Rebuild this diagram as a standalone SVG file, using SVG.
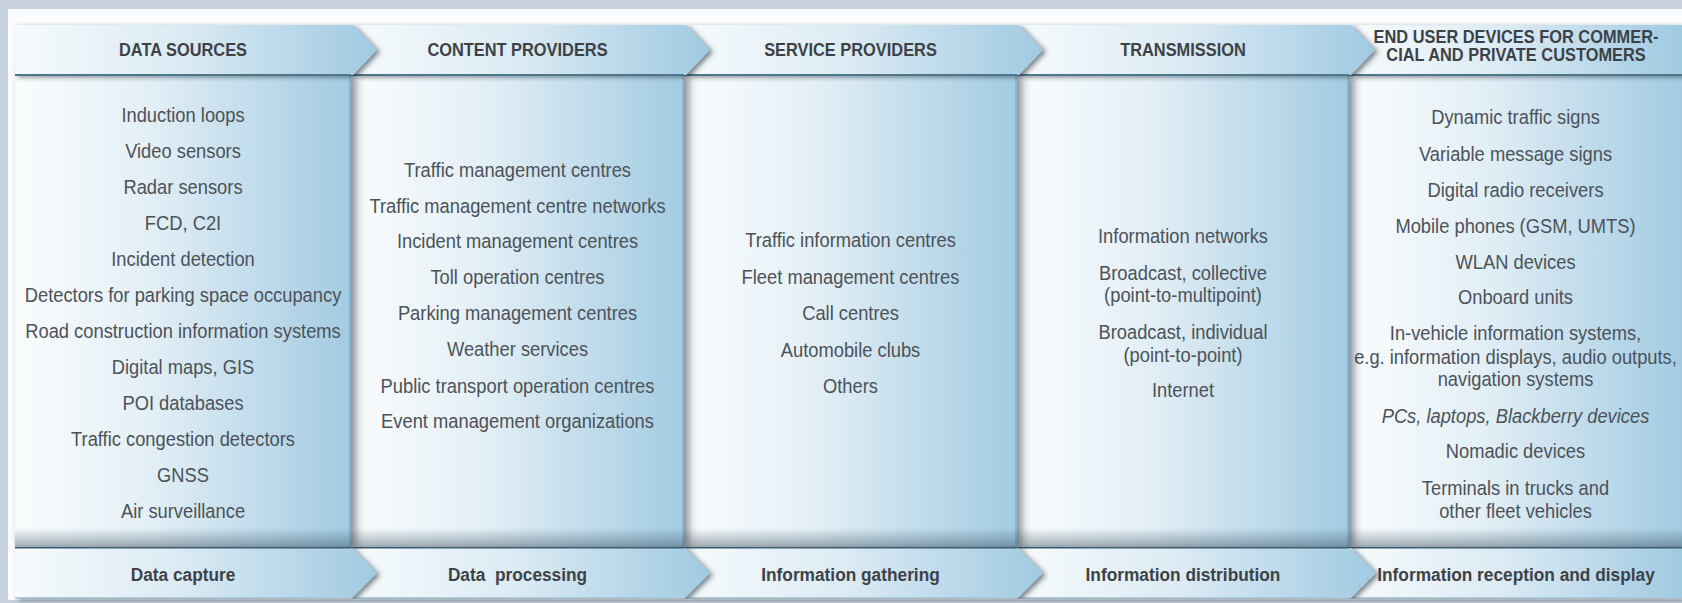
<svg xmlns="http://www.w3.org/2000/svg" width="1682" height="603" viewBox="0 0 1682 603">
<defs>
<style>
.t{font-family:"Liberation Sans",Arial,sans-serif;font-size:19.5px;fill:#4c5258;text-anchor:middle}
.h{font-family:"Liberation Sans",Arial,sans-serif;font-size:18.5px;font-weight:bold;fill:#3d4246;text-anchor:middle}
.it{font-style:italic}
.edge{fill:#86b6d0}
.hl{fill:#4f778c}
.bl{fill:#3f5d6e}
.bb{fill:#a9cde0}
</style>
<linearGradient id="gBody" x1="0" y1="0" x2="1" y2="0">
<stop offset="0" stop-color="#fafcfd"/><stop offset="0.4" stop-color="#e3eff6"/><stop offset="1" stop-color="#a2cbe2"/>
</linearGradient>
<linearGradient id="gHead" x1="0" y1="0" x2="1" y2="0">
<stop offset="0" stop-color="#f6fafc"/><stop offset="0.45" stop-color="#dcebf4"/><stop offset="1" stop-color="#a0cae2"/>
</linearGradient>
<linearGradient id="gBot" x1="0" y1="0" x2="0" y2="1">
<stop offset="0" stop-color="#2e4656" stop-opacity="0"/><stop offset="1" stop-color="#2e4656" stop-opacity="0.45"/>
</linearGradient>
<filter id="shR" x="-5%" y="-5%" width="115%" height="110%">
<feDropShadow dx="5" dy="0" stdDeviation="4" flood-color="#26323a" flood-opacity="0.55"/>
</filter>
<filter id="shA" x="-5%" y="-20%" width="115%" height="150%">
<feDropShadow dx="3" dy="2" stdDeviation="2.5" flood-color="#26323a" flood-opacity="0.6"/>
</filter>
</defs>
<rect x="0" y="0" width="1682" height="603" fill="#c7d1dd"/>
<rect x="8" y="9" width="1674" height="591" fill="#fbfcfd"/>

<g id="col-end-user-devices">
<rect x="1349" y="75" width="333" height="473" fill="url(#gBody)"/>
<rect x="1349" y="528" width="333" height="20" fill="url(#gBot)"/>
<path d="M1351,25 H1682 V75 H1351 L1375,50 Z" fill="url(#gHead)" filter="url(#shA)"/>
<rect class="hl" x="1349" y="74" width="333" height="2"/>
<path d="M1351,548 H1682 V598 H1351 L1376,573 Z" fill="url(#gHead)" filter="url(#shA)"/>
<rect class="bl" x="1349" y="547" width="333" height="1.5"/>
<rect class="bb" x="1349" y="597" width="333" height="1.5"/>
<g transform="translate(1516 0) scale(0.886 1)">
<text class="h" x="0" y="43.5">END USER DEVICES FOR COMMER-</text>
<text class="h" x="0" y="61.5">CIAL AND PRIVATE CUSTOMERS</text>
</g>
<g transform="translate(1516 0) scale(0.935 1)">
<text class="h" x="0" y="581.5">Information reception and display</text>
</g>
<g transform="translate(1515.5 0) scale(0.94 1)">
<text class="t" x="0" y="124">Dynamic traffic signs</text>
<text class="t" x="0" y="161">Variable message signs</text>
<text class="t" x="0" y="197">Digital radio receivers</text>
<text class="t" x="0" y="233">Mobile phones (GSM, UMTS)</text>
<text class="t" x="0" y="269">WLAN devices</text>
<text class="t" x="0" y="304">Onboard units</text>
<text class="t" x="0" y="340">In-vehicle information systems,</text>
<text class="t" x="0" y="364">e.g. information displays, audio outputs,</text>
<text class="t" x="0" y="386">navigation systems</text>
<text class="t it" x="0" y="423">PCs, laptops, Blackberry devices</text>
<text class="t" x="0" y="458">Nomadic devices</text>
<text class="t" x="0" y="495">Terminals in trucks and</text>
<text class="t" x="0" y="518">other fleet vehicles</text>
</g>
</g>

<g id="col-transmission">
<rect x="1017" y="75" width="332" height="473" fill="url(#gBody)" filter="url(#shR)"/>
<rect class="edge" x="1347" y="75" width="2" height="473"/>
<rect x="1017" y="528" width="332" height="20" fill="url(#gBot)"/>
<path d="M1019,25 H1351 L1375,50 L1351,75 H1019 L1043,50 Z" fill="url(#gHead)" filter="url(#shA)"/>
<rect class="hl" x="1017" y="74" width="332" height="2"/>
<path d="M1018,548 H1351 L1376,573 L1351,598 H1018 L1043,573 Z" fill="url(#gHead)" filter="url(#shA)"/>
<rect class="bl" x="1017" y="547" width="332" height="1.5"/>
<rect class="bb" x="1017" y="597" width="332" height="1.5"/>
<g transform="translate(1183 0) scale(0.886 1)">
<text class="h" x="0" y="56">TRANSMISSION</text>
</g>
<g transform="translate(1183 0) scale(0.935 1)">
<text class="h" x="0" y="581.5">Information distribution</text>
</g>
<g transform="translate(1183 0) scale(0.94 1)">
<text class="t" x="0" y="243">Information networks</text>
<text class="t" x="0" y="280">Broadcast, collective</text>
<text class="t" x="0" y="302">(point-to-multipoint)</text>
<text class="t" x="0" y="339">Broadcast, individual</text>
<text class="t" x="0" y="362">(point-to-point)</text>
<text class="t" x="0" y="397">Internet</text>
</g>
</g>

<g id="col-service-providers">
<rect x="684" y="75" width="333" height="473" fill="url(#gBody)" filter="url(#shR)"/>
<rect class="edge" x="1015" y="75" width="2" height="473"/>
<rect x="684" y="528" width="333" height="20" fill="url(#gBot)"/>
<path d="M686,25 H1019 L1043,50 L1019,75 H686 L710,50 Z" fill="url(#gHead)" filter="url(#shA)"/>
<rect class="hl" x="684" y="74" width="333" height="2"/>
<path d="M685,548 H1018 L1043,573 L1018,598 H685 L710,573 Z" fill="url(#gHead)" filter="url(#shA)"/>
<rect class="bl" x="684" y="547" width="333" height="1.5"/>
<rect class="bb" x="684" y="597" width="333" height="1.5"/>
<g transform="translate(850.5 0) scale(0.886 1)">
<text class="h" x="0" y="56">SERVICE PROVIDERS</text>
</g>
<g transform="translate(850.5 0) scale(0.935 1)">
<text class="h" x="0" y="581.5">Information gathering</text>
</g>
<g transform="translate(850.5 0) scale(0.94 1)">
<text class="t" x="0" y="247">Traffic information centres</text>
<text class="t" x="0" y="284">Fleet management centres</text>
<text class="t" x="0" y="320">Call centres</text>
<text class="t" x="0" y="357">Automobile clubs</text>
<text class="t" x="0" y="393">Others</text>
</g>
</g>

<g id="col-content-providers">
<rect x="351" y="75" width="333" height="473" fill="url(#gBody)" filter="url(#shR)"/>
<rect class="edge" x="682" y="75" width="2" height="473"/>
<rect x="351" y="528" width="333" height="20" fill="url(#gBot)"/>
<path d="M353,25 H686 L710,50 L686,75 H353 L377,50 Z" fill="url(#gHead)" filter="url(#shA)"/>
<rect class="hl" x="351" y="74" width="333" height="2"/>
<path d="M352,548 H685 L710,573 L685,598 H352 L377,573 Z" fill="url(#gHead)" filter="url(#shA)"/>
<rect class="bl" x="351" y="547" width="333" height="1.5"/>
<rect class="bb" x="351" y="597" width="333" height="1.5"/>
<g transform="translate(517.5 0) scale(0.886 1)">
<text class="h" x="0" y="56">CONTENT PROVIDERS</text>
</g>
<g transform="translate(517.5 0) scale(0.935 1)">
<text class="h" x="0" y="581.5" xml:space="preserve">Data  processing</text>
</g>
<g transform="translate(517.5 0) scale(0.94 1)">
<text class="t" x="0" y="177">Traffic management centres</text>
<text class="t" x="0" y="213">Traffic management centre networks</text>
<text class="t" x="0" y="248">Incident management centres</text>
<text class="t" x="0" y="284">Toll operation centres</text>
<text class="t" x="0" y="320">Parking management centres</text>
<text class="t" x="0" y="356">Weather services</text>
<text class="t" x="0" y="393">Public transport operation centres</text>
<text class="t" x="0" y="428">Event management organizations</text>
</g>
</g>

<g id="col-data-sources">
<rect x="15" y="75" width="336" height="473" fill="url(#gBody)" filter="url(#shR)"/>
<rect class="edge" x="349" y="75" width="2" height="473"/>
<rect x="15" y="528" width="336" height="20" fill="url(#gBot)"/>
<path d="M15,25 H353 L377,50 L353,75 H15 Z" fill="url(#gHead)" filter="url(#shA)"/>
<rect class="hl" x="15" y="74" width="336" height="2"/>
<path d="M15,548 H352 L377,573 L352,598 H15 Z" fill="url(#gHead)" filter="url(#shA)"/>
<rect class="bl" x="15" y="547" width="336" height="1.5"/>
<rect class="bb" x="15" y="597" width="336" height="1.5"/>
<g transform="translate(183 0) scale(0.886 1)">
<text class="h" x="0" y="56">DATA SOURCES</text>
</g>
<g transform="translate(183 0) scale(0.935 1)">
<text class="h" x="0" y="581.5">Data capture</text>
</g>
<g transform="translate(183 0) scale(0.94 1)">
<text class="t" x="0" y="122">Induction loops</text>
<text class="t" x="0" y="158">Video sensors</text>
<text class="t" x="0" y="194">Radar sensors</text>
<text class="t" x="0" y="230">FCD, C2I</text>
<text class="t" x="0" y="266">Incident detection</text>
<text class="t" x="0" y="302">Detectors for parking space occupancy</text>
<text class="t" x="0" y="338">Road construction information systems</text>
<text class="t" x="0" y="374">Digital maps, GIS</text>
<text class="t" x="0" y="410">POI databases</text>
<text class="t" x="0" y="446">Traffic congestion detectors</text>
<text class="t" x="0" y="482">GNSS</text>
<text class="t" x="0" y="518">Air surveillance</text>
</g>
</g>

<g id="connectors"></g>
</svg>
